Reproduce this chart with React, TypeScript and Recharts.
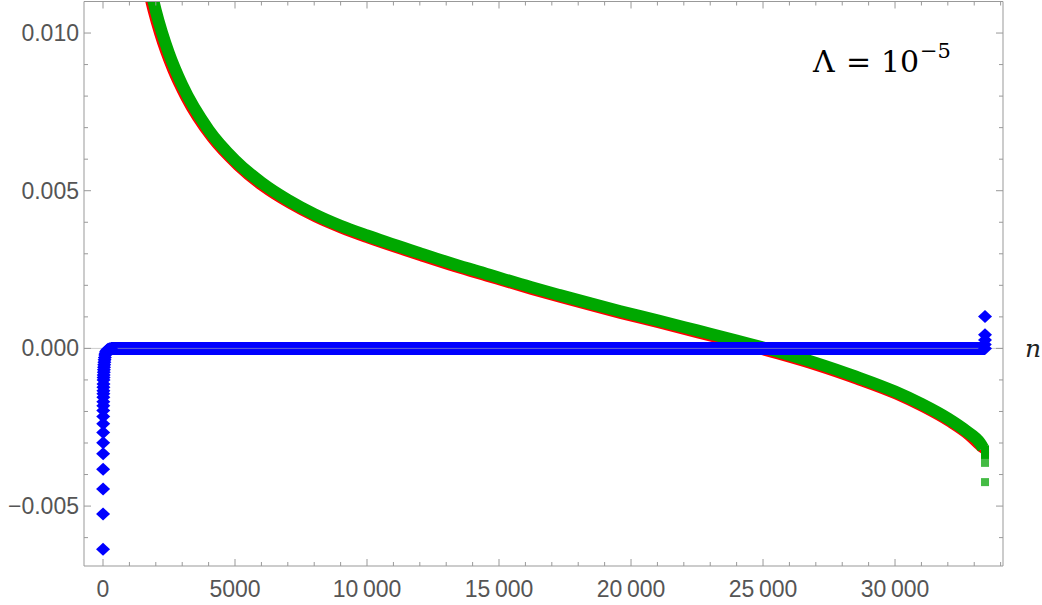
import React from "react";
import {
  ComposedChart,
  Line,
  Scatter,
  XAxis,
  YAxis,
  ReferenceLine,
} from "recharts";

// axis ticks
const xMajorTicks = [0, 5000, 10000, 15000, 20000, 25000, 30000];
const xTickLabels = ["0", "5000", "10\u2009000", "15\u2009000", "20\u2009000", "25\u2009000", "30\u2009000"];
const xMinorTicks = [
  1000, 2000, 3000, 4000, 6000, 7000, 8000, 9000, 11000, 12000, 13000, 14000,
  16000, 17000, 18000, 19000, 21000, 22000, 23000, 24000, 26000, 27000, 28000,
  29000, 31000, 32000, 33000, 34000,
];
const yMajorTicks = [-0.005, 0, 0.005, 0.01];
const yTickLabels = ["\u22120.005", "0.000", "0.005", "0.010"];
const yMinorTicks = [
  -0.006, -0.004, -0.003, -0.002, -0.001, 0.001, 0.002, 0.003, 0.004, 0.006,
  0.007, 0.008, 0.009,
];

// green (thick) series
const greenN = [1500, 1750, 2000, 2500, 3000, 4000, 5000, 6000, 7000, 8000, 9000, 10000, 12000, 13300, 14500, 16200, 17300, 18500, 19600, 21000, 22500, 24000, 25500, 27000, 28500, 30000, 31000, 32000, 32700, 33220, 33340];
const greenV = [0.0127, 0.0116, 0.01071, 0.00935, 0.00835, 0.00693, 0.00597, 0.00526, 0.00471, 0.00426, 0.00389, 0.00358, 0.00302, 0.00267, 0.00237, 0.001945, 0.00169, 0.00142, 0.00118, 0.00089, 0.00057, 0.00025, -0.00009, -0.00046, -0.00089, -0.00137, -0.00176, -0.00222, -0.00262, -0.003, -0.00316];

// green end points
const greenTailN = [33409, 33409, 33409];
const greenTailV = [-0.0032, -0.0033, -0.0034];
const lightTailN = [33409, 33409];
const lightTailV = [-0.00363, -0.00424];

// red series
const redN = [1500, 1750, 2000, 2500, 3000, 4000, 5000, 6000, 7000, 8000, 9000, 10000, 12000, 13300, 14500, 16200, 17300, 18500, 19600, 21000, 22500, 24000, 25500, 27000, 28500, 30000, 31000, 32000, 32700, 33220, 33380];
const redV = [0.01156, 0.01069, 0.00995, 0.00879, 0.00791, 0.00661, 0.00571, 0.00502, 0.00449, 0.00405, 0.00369, 0.00338, 0.00282, 0.00247, 0.00217, 0.00175, 0.00149, 0.00122, 0.00098, 0.00069, 0.00037, 0.00005, -0.00029, -0.00066, -0.00109, -0.00157, -0.00197, -0.00244, -0.00285, -0.00325, -0.00334];

// blue series: diamonds near n = 0 and at the end, band along zero
const blueN = [1, 2, 3, 4, 5, 6, 7, 8, 9, 10, 11, 12, 13, 14, 15, 16, 18, 20, 23, 26, 30, 34, 39, 45, 52, 60, 70, 85, 100, 120, 150, 190, 240, 300, 33400, 33409, 33409, 33409, 33409];
const blueV = [-0.00637, -0.00525, -0.00446, -0.00383, -0.00334, -0.00299, -0.00267, -0.00239, -0.00216, -0.00197, -0.00182, -0.00169, -0.00155, -0.00144, -0.00134, -0.00123, -0.00113, -0.001, -0.00092, -0.00084, -0.00076, -0.00068, -0.0006, -0.00052, -0.00044, -0.00036, -0.00029, -0.00021, -0.00015, -0.0001, -0.00006, -0.00003, -0.00001, 0, 0.00012, 0, 0.00027, 0.00043, 0.00101];
const blueBandN = [300, 33409];
const blueBandV = [0, 0];

const toData = (ns: number[], vs: number[]) => ns.map((n, i) => ({ n, v: vs[i] }));

const greenData = toData(greenN, greenV);
const greenTail = toData(greenTailN, greenTailV);
const lightTail = toData(lightTailN, lightTailV);
const redData = toData(redN, redV);
const blueData = toData(blueN, blueV);
const blueBand = toData(blueBandN, blueBandV);

const FRAME = "#999999";
const LABEL = "#555555";
const tickFont = "'Liberation Sans', Arial, sans-serif";
const TICK_FS = 23;

const XTickBottom = (props: any) => {
  const { x, y, payload } = props;
  const i = xMajorTicks.indexOf(payload.value);
  const len = i >= 0 ? 7 : 4;
  return (
    <g>
      <line x1={x} y1={y} x2={x} y2={y - len} stroke={FRAME} />
      {i >= 0 && (
        <text x={x} y={y + 31} textAnchor="middle" fill={LABEL} fontSize={TICK_FS} fontFamily={tickFont}>
          {xTickLabels[i]}
        </text>
      )}
    </g>
  );
};

const XTickTop = (props: any) => {
  const { x, y, payload } = props;
  const len = xMajorTicks.indexOf(payload.value) >= 0 ? 7 : 4;
  return <line x1={x} y1={y} x2={x} y2={y + len} stroke={FRAME} />;
};

const YTickLeft = (props: any) => {
  const { x, y, payload } = props;
  const i = yMajorTicks.indexOf(payload.value);
  const len = i >= 0 ? 7 : 4;
  return (
    <g>
      <line x1={x} y1={y} x2={x + len} y2={y} stroke={FRAME} />
      {i >= 0 && (
        <text x={x - 5} y={y + 8} textAnchor="end" fill={LABEL} fontSize={TICK_FS} fontFamily={tickFont}>
          {yTickLabels[i]}
        </text>
      )}
    </g>
  );
};

const YTickRight = (props: any) => {
  const { x, y, payload } = props;
  const len = yMajorTicks.indexOf(payload.value) >= 0 ? 7 : 4;
  return <line x1={x} y1={y} x2={x - len} y2={y} stroke={FRAME} />;
};

const Diamond = (props: any) => {
  const { cx, cy } = props;
  return (
    <polygon
      points={`${cx},${cy - 6.5} ${cx + 7},${cy} ${cx},${cy + 6.5} ${cx - 7},${cy}`}
      fill="#0000ff"
    />
  );
};

const makeSquare = (color: string) => (props: any) => {
  const { cx, cy } = props;
  return <rect x={cx - 4} y={cy - 4} width={8} height={8} fill={color} />;
};
const DarkSquare = makeSquare("#00a800");
const LightSquare = makeSquare("#44bb44");

const xDomain = [-720, 34090];
const yDomain = [-0.0069, 0.011];
const xTicks = [...xMajorTicks, ...xMinorTicks];
const yTicks = [...yMajorTicks, ...yMinorTicks];

export default function App() {
  return (
    <div style={{ position: "absolute", left: 0, top: 0, width: 1042, height: 605, background: "#fff" }}>
      <ComposedChart width={1042} height={605} margin={{ top: 0.5, right: 38, bottom: 0, left: 0 }}>
        <XAxis
          xAxisId={0}
          dataKey="n"
          type="number"
          domain={xDomain}
          ticks={xTicks}
          interval={0}
          allowDataOverflow
          height={39}
          tickSize={0}
          tickMargin={0}
          tickLine={false}
          axisLine={{ stroke: FRAME }}
          tick={XTickBottom}
        />
        <XAxis
          xAxisId="top"
          orientation="top"
          dataKey="n"
          type="number"
          domain={xDomain}
          ticks={xTicks}
          interval={0}
          allowDataOverflow
          height={1}
          tickSize={0}
          tickMargin={0}
          tickLine={false}
          axisLine={{ stroke: FRAME }}
          tick={XTickTop}
        />
        <YAxis
          yAxisId={0}
          dataKey="v"
          type="number"
          domain={yDomain}
          ticks={yTicks}
          interval={0}
          allowDataOverflow
          width={84}
          tickSize={0}
          tickMargin={0}
          tickLine={false}
          axisLine={{ stroke: FRAME }}
          tick={YTickLeft}
        />
        <YAxis
          yAxisId="right"
          orientation="right"
          dataKey="v"
          type="number"
          domain={yDomain}
          ticks={yTicks}
          interval={0}
          allowDataOverflow
          width={1}
          tickSize={0}
          tickMargin={0}
          tickLine={false}
          axisLine={{ stroke: FRAME }}
          tick={YTickRight}
        />
        <Line
          data={redData}
          dataKey="v"
          type="monotone"
          stroke="#ff0000"
          strokeWidth={3}
          dot={false}
          isAnimationActive={false}
        />
        <Line
          data={greenData}
          dataKey="v"
          type="monotone"
          stroke="#00a800"
          strokeWidth={12}
          strokeLinejoin="round"
          dot={false}
          isAnimationActive={false}
        />
        <Scatter data={greenTail} dataKey="v" shape={DarkSquare} isAnimationActive={false} />
        <Scatter data={lightTail} dataKey="v" shape={LightSquare} isAnimationActive={false} />
        <Line
          data={blueBand}
          dataKey="v"
          type="linear"
          stroke="#0000ff"
          strokeWidth={13}
          dot={false}
          isAnimationActive={false}
        />
        <Scatter data={blueData} dataKey="v" shape={Diamond} isAnimationActive={false} />
        <ReferenceLine
          y={0}
          stroke="#aaaaaa"
          strokeOpacity={0.6}
          label={{
            value: "n",
            position: "right",
            offset: 22,
            fill: "#222",
            fontSize: 25,
            fontStyle: "italic",
            fontFamily: "'DejaVu Serif', 'Liberation Serif', serif",
          }}
        />
      </ComposedChart>
      <svg
        width={1042}
        height={605}
        style={{ position: "absolute", left: 0, top: 0, pointerEvents: "none" }}
      >
        <g fontFamily="'DejaVu Serif', 'Liberation Serif', serif" fill="#000">
          <text x={813} y={72} fontSize={30}>Λ</text>
          <text x={846} y={72} fontSize={30}>=</text>
          <text x={881} y={72} fontSize={30}>10</text>
          <text x={920} y={58} fontSize={21}>−5</text>
        </g>
      </svg>
    </div>
  );
}
